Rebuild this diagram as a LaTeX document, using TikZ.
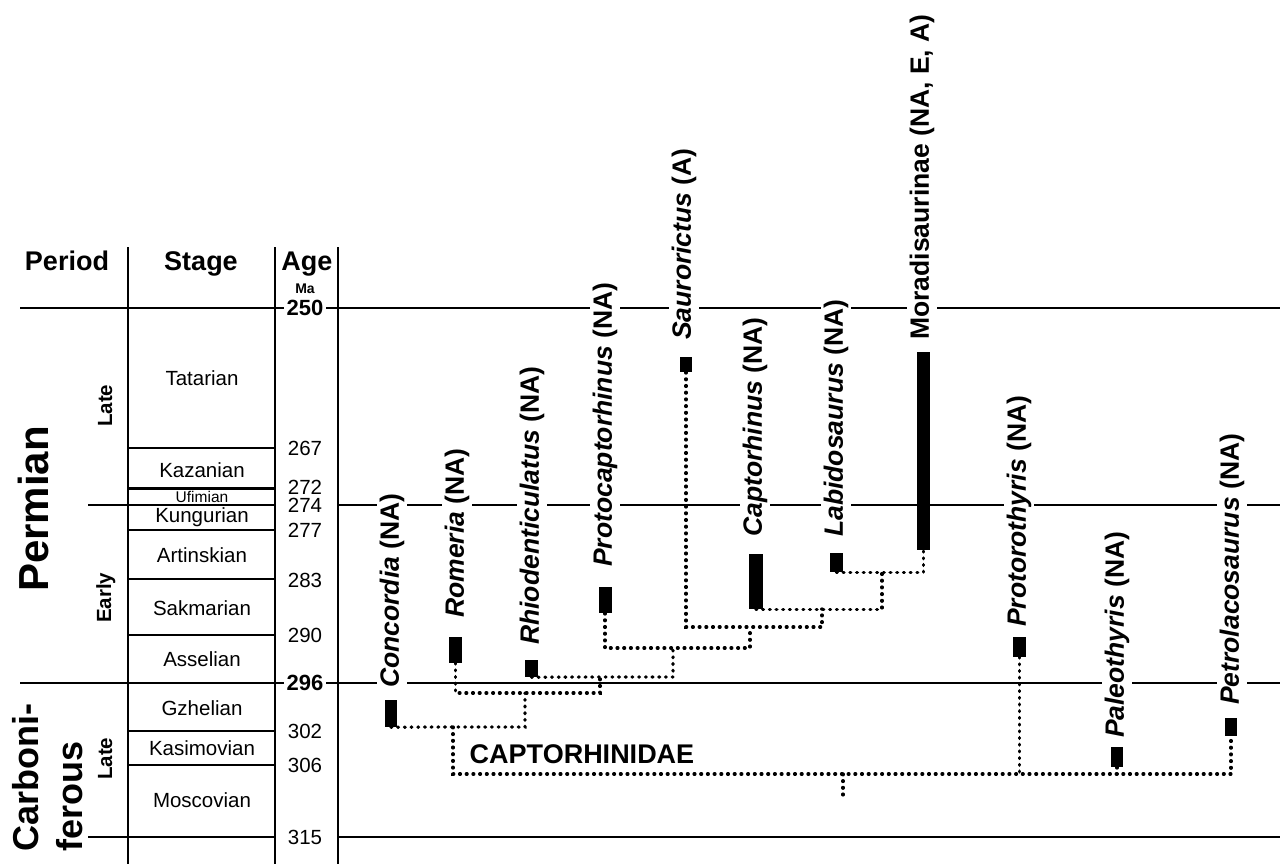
\documentclass[tikz,border=0pt]{standalone}
\usepackage{fontspec}
\setmainfont{Liberation Sans}
\begin{document}
\begin{tikzpicture}[x=1pt,y=-1pt,
  every node/.style={inner sep=0pt},
  thickline/.style={line width=2.7pt},
  thinline/.style={line width=1.3pt},
  midline/.style={line width=2.3pt},
  dotline/.style={line width=3.3pt, line cap=round, dash pattern=on 0.8pt off 5.9pt},
  bar/.style={rectangle, fill=black, draw=none, minimum width=13pt, inner sep=0pt},
  taxon/.style={rotate=90, anchor=west, fill=white, inner sep=3pt, font=\fontsize{26.5}{30}\selectfont\bfseries},
  stagename/.style={anchor=base, font=\fontsize{20.5}{24}\selectfont},
  agenum/.style={anchor=center, font=\fontsize{20.5}{24}\selectfont},
  agebold/.style={anchor=center, fill=white, inner sep=3pt, font=\fontsize{22}{26}\selectfont\bfseries},
  header/.style={anchor=base, font=\fontsize{27}{30}\selectfont\bfseries},
  subper/.style={rotate=90, anchor=base west, font=\fontsize{20.5}{24}\selectfont\bfseries},
  period/.style={rotate=90, anchor=base west, font=\fontsize{36}{40}\selectfont\bfseries}
]
\useasboundingbox (0,0) rectangle (1280,864);

% ---- time lines ----
\draw[thickline] (20,308) -- (1280,308);
\draw[thickline] (20,683) -- (1280,683);
\draw[thinline] (88,505) -- (128,505);
\draw[midline] (128,505) -- (275,505);
\draw[thinline] (338,505) -- (1280,505);
\draw[thinline] (88,837) -- (128,837);
\draw[midline] (128,837) -- (275,837);
\draw[thinline] (338,837) -- (1280,837);
\foreach \yy in {448,530,579,635,731,765} \draw[midline] (128,\yy) -- (275,\yy);
\draw[line width=3pt] (128,488) -- (275,488);

% ---- column separators ----
\draw[thickline] (128,247) -- (128,864);
\draw[thickline] (275,247) -- (275,864);
\draw[thickline] (338,247) -- (338,864);

% ---- headers ----
\node[header] (hPeriod) at (67,270) {Period};
\node[header] (hStage) at (201,270) {Stage};
\node[header] (hAge) at (307,270) {Age};
\node[anchor=base, font=\fontsize{14}{16}\selectfont\bfseries] (hMa) at (305,293) {Ma};

% ---- periods ----
\node[period, font=\fontsize{42}{46}\selectfont\bfseries] (pPerm) at (48,592) {Permian};
\node[period] (pCarb1) at (38,852) {Carboni-};
\node[period] (pCarb2) at (82,852) {ferous};
\node[subper] (sLate1) at (112,427) {Late};
\node[subper] (sEarly) at (111,623) {Early};
\node[subper] (sLate2) at (112,780) {Late};

% ---- stages ----
\node[stagename] (st1) at (202,385) {Tatarian};
\node[stagename] (st2) at (202,477) {Kazanian};
\node[stagename, font=\fontsize{15.5}{17}\selectfont] (st3) at (202,502) {Ufimian};
\node[stagename] (st4) at (202,522) {Kungurian};
\node[stagename] (st5) at (202,562) {Artinskian};
\node[stagename] (st6) at (202,615) {Sakmarian};
\node[stagename] (st7) at (202,666) {Asselian};
\node[stagename] (st8) at (202,715) {Gzhelian};
\node[stagename] (st9) at (202,755) {Kasimovian};
\node[stagename] (st10) at (202,807) {Moscovian};

% ---- ages ----
\node[agebold] (a250) at (305,308) {250};
\node[agenum] (a267) at (305,448) {267};
\node[agenum] (a272) at (305,487) {272};
\node[agenum] (a274) at (305,505) {274};
\node[agenum] (a277) at (305,530) {277};
\node[agenum] (a283) at (305,580) {283};
\node[agenum] (a290) at (305,635) {290};
\node[agebold] (a296) at (305,683) {296};
\node[agenum] (a302) at (305,731) {302};
\node[agenum] (a306) at (305,765) {306};
\node[agenum] (a315) at (305,837) {315};

% ---- taxon labels ----
\node[taxon] (tConc) at (392,691) {\textit{Concordia} (NA)};
\node[taxon] (tRom) at (457,621) {\textit{Romeria} (NA)};
\node[taxon] (tRhio) at (532,648) {\textit{Rhiodenticulatus} (NA)};
\node[taxon] (tProto) at (605,570) {\textit{Protocaptorhinus} (NA)};
\node[taxon] (tSaur) at (684,343) {\textit{Saurorictus} (A)};
\node[taxon] (tCapt) at (755,540) {\textit{Captorhinus} (NA)};
\node[taxon] (tLab) at (836,540) {\textit{Labidosaurus} (NA)};
\node[taxon] (tMor) at (922,343) {Moradisaurinae (NA, E, A)};
\node[taxon] (tPrth) at (1019,630) {\textit{Protorothyris} (NA)};
\node[taxon] (tPal) at (1117,741) {\textit{Paleothyris} (NA)};
\node[taxon] (tPetr) at (1232,708) {\textit{Petrolacosaurus} (NA)};

\node[anchor=base, font=\fontsize{27}{30}\selectfont\bfseries] (capt) at (582,763) {CAPTORHINIDAE};

% ---- range bars ----
\node[bar, minimum width=12pt, minimum height=27pt] (b1) at (391,713.5) {};
\node[bar, minimum height=26pt] (b2) at (455.5,650) {};
\node[bar, minimum height=17pt] (b3) at (531.5,668.5) {};
\node[bar, minimum height=26pt] (b4) at (605,600) {};
\node[bar, minimum width=12pt, minimum height=15pt] (b5) at (686,364.5) {};
\node[bar, minimum width=14pt, minimum height=55pt] (b6) at (756,581.5) {};
\node[bar, minimum height=19pt] (b7) at (836.5,562.5) {};
\node[bar, minimum height=198pt] (b8) at (923.5,451) {};
\node[bar, minimum height=20pt] (b9) at (1019.5,647) {};
\node[bar, minimum width=12pt, minimum height=20pt] (b10) at (1117,757) {};
\node[bar, minimum width=12pt, minimum height=18pt] (b11) at (1231,727) {};

% ---- clade nodes ----
\coordinate (C1) at (882,572);
\coordinate (C2) at (822,609);
\coordinate (C3) at (750,627);
\coordinate (C4) at (673,648);
\coordinate (C5) at (600,677);
\coordinate (C6) at (525,693);
\coordinate (C7) at (453,727);
\coordinate (R) at (843,774);
\coordinate (root) at (843,795);

% ---- connectors ----
\draw[dotline] (b7.south) -| (b8.south);
\draw[dotline] (b6.south) -| (C1);
\draw[dotline] (b5.south) |- (C3) -| (C2);
\draw[dotline] (b4.south) |- (C4) -| (C3);
\draw[dotline] (b3.south) -- (C5) -| (C4);
\draw[dotline] (b2.south) |- (C6) -| (C5);
\draw[dotline] (b1.south) -- (C7) -| (C6);
\draw[dotline] (C7) |- (R) -| (b11.south);
\draw[dotline] (b9.south) -- (b9.south |- R);
\draw[dotline] (b10.south) -- (b10.south |- R);
\draw[dotline] (R) -- (root);
\end{tikzpicture}
\end{document}
